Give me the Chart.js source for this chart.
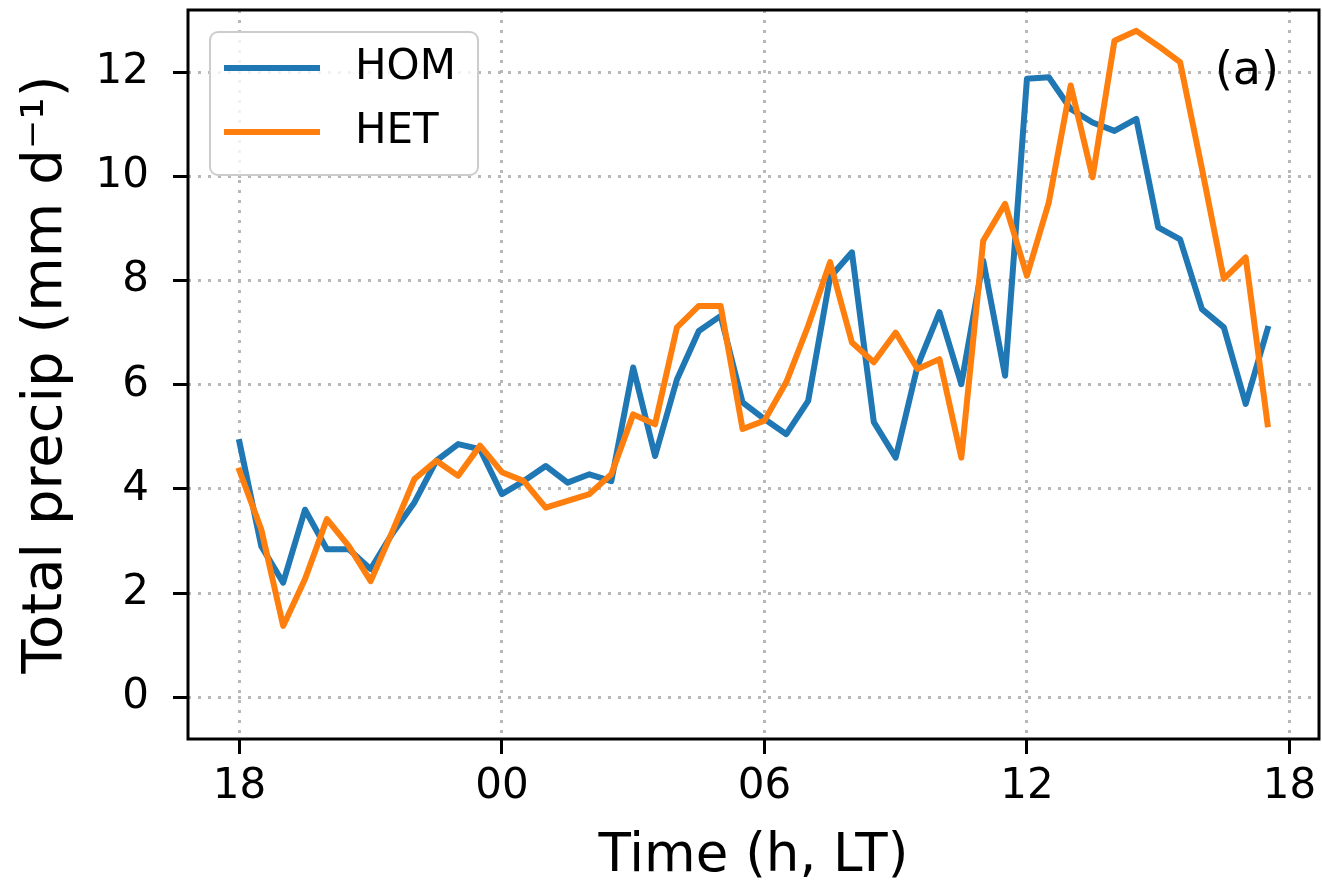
<!DOCTYPE html>
<html>
<head>
<meta charset="utf-8">
<title>Total precip HOM / HET</title>
<script src="https://cdn.jsdelivr.net/npm/chart.js@4.4.1/dist/chart.umd.min.js"></script>
<style>
  html, body { margin: 0; padding: 0; background: #fff; }
  #wrap { width: 1322px; height: 884px; position: relative; }
</style>
</head>
<body>
<div id="wrap"><canvas id="chartCanvas"></canvas></div>
<script>
// horas desde las 18 LT (cada media hora)
const horas = [0, 0.5, 1, 1.5, 2, 2.5, 3, 3.5, 4, 4.5, 5, 5.5, 6, 6.5, 7, 7.5,
    8, 8.5, 9, 9.5, 10, 10.5, 11, 11.5, 12, 12.5, 13, 13.5, 14, 14.5, 15, 15.5,
    16, 16.5, 17, 17.5, 18, 18.5, 19, 19.5, 20, 20.5, 21, 21.5, 22, 22.5, 23, 23.5];

const hom = [4.9, 2.9, 2.2, 3.6, 2.84, 2.84, 2.46, 3.15, 3.74, 4.54, 4.86, 4.76,
    3.9, 4.15, 4.44, 4.12, 4.28, 4.15, 6.33, 4.63, 6.1, 7.03, 7.32, 5.66,
    5.34, 5.05, 5.69, 8.06, 8.54, 5.28, 4.6, 6.36, 7.39, 6.01, 8.38, 6.17,
    11.87, 11.9, 11.29, 11.03, 10.87, 11.1, 9.02, 8.79, 7.45, 7.1, 5.63, 7.07];

const het = [4.35, 3.22, 1.37, 2.27, 3.42, 2.9, 2.23, 3.19, 4.19, 4.54, 4.25, 4.83,
    4.32, 4.15, 3.64, 3.77, 3.9, 4.28, 5.43, 5.24, 7.1, 7.51, 7.51, 5.15,
    5.31, 6.05, 7.13, 8.35, 6.81, 6.43, 7.0, 6.3, 6.49, 4.6, 8.76, 9.47,
    8.09, 9.5, 11.74, 9.98, 12.6, 12.79, 12.5, 12.19, 10.14, 8.03, 8.44, 5.24];

const xTickHoras = [0, 6, 12, 18, 24];
const xTickLabels = ['18', '00', '06', '12', '18'];
const yTicks = [0, 2, 4, 6, 8, 10, 12];

const FUENTE = '"DejaVu Sans", sans-serif';

function aPuntos(valores) {
    return valores.map((v, i) => ({ x: horas[i], y: v }));
}

// marco negro, leyenda y etiqueta (a)
const extras = {
    id: 'extras',
    afterDatasetsDraw(chart) {
        const ctx = chart.ctx;
        const area = chart.chartArea;
        const bx = area.left + 22, by = area.top + 22, bw = 268, bh = 143;

        ctx.save();
        ctx.beginPath();
        ctx.roundRect(bx, by, bw, bh, 8);
        ctx.fillStyle = 'rgba(255,255,255,0.8)';
        ctx.fill();
        ctx.strokeStyle = '#cccccc';
        ctx.lineWidth = 2;
        ctx.stroke();

        const filas = [by + 36, by + 100];
        chart.data.datasets.forEach((ds, i) => {
            ctx.beginPath();
            ctx.moveTo(bx + 14, filas[i]);
            ctx.lineTo(bx + 110, filas[i]);
            ctx.strokeStyle = ds.borderColor;
            ctx.lineWidth = 6;
            ctx.stroke();
            ctx.fillStyle = '#000';
            ctx.font = '42px ' + FUENTE;
            ctx.textAlign = 'left';
            ctx.textBaseline = 'middle';
            ctx.fillText(ds.label, bx + 145, filas[i]);
        });

        ctx.font = '46px ' + FUENTE;
        ctx.textAlign = 'right';
        ctx.textBaseline = 'middle';
        ctx.fillStyle = '#000';
        ctx.fillText('(a)', area.right - 40, chart.scales.y.getPixelForValue(12));
        ctx.restore();
    },
    afterDraw(chart) {
        const ctx = chart.ctx;
        const a = chart.chartArea;
        ctx.save();
        ctx.strokeStyle = '#000';
        ctx.lineWidth = 3;
        ctx.strokeRect(a.left, a.top, a.right - a.left, a.bottom - a.top);
        ctx.restore();
    }
};

const gridComun = {
    color: '#b8b8b8',
    lineWidth: 3,
    drawTicks: true,
    tickLength: 15,
    tickWidth: 3,
    tickColor: '#000'
};

function sinRelleno(scale) {
    scale.paddingTop = 0;
    scale.paddingBottom = 0;
    scale.paddingLeft = 0;
    scale.paddingRight = 0;
}

const ctx = document.getElementById('chartCanvas').getContext('2d');
const chart = new Chart(ctx, {
    type: 'line',
    data: {
        datasets: [{
            label: 'HOM',
            data: aPuntos(hom),
            borderColor: '#1f77b4',
            borderWidth: 6,
            pointRadius: 0,
            tension: 0,
            borderJoinStyle: 'round',
            borderCapStyle: 'square',
            order: 2
        }, {
            label: 'HET',
            data: aPuntos(het),
            borderColor: '#ff7f0e',
            borderWidth: 6,
            pointRadius: 0,
            tension: 0,
            borderJoinStyle: 'round',
            borderCapStyle: 'square',
            order: 1
        }]
    },
    options: {
        responsive: true,
        maintainAspectRatio: false,
        animation: false,
        layout: { padding: { top: 10, right: 3, left: 0, bottom: 0 } },
        plugins: {
            legend: { display: false },
            tooltip: { enabled: false }
        },
        scales: {
            x: {
                type: 'linear',
                min: -1.175,
                max: 24.675,
                afterFit(scale) { scale.height = 145; sinRelleno(scale); },
                afterBuildTicks(scale) { scale.ticks = xTickHoras.map(v => ({ value: v })); },
                grid: gridComun,
                border: { display: false, dash: [3, 7] },
                ticks: {
                    autoSkip: false,
                    maxRotation: 0,
                    padding: 8,
                    color: '#000',
                    font: { family: FUENTE, size: 42 },
                    callback: (value, index) => xTickLabels[index]
                },
                title: {
                    display: true,
                    text: 'Time (h, LT)',
                    color: '#000',
                    font: { family: FUENTE, size: 53, lineHeight: 1 },
                    padding: { top: 0, bottom: 0 }
                }
            },
            y: {
                type: 'linear',
                min: -0.8,
                max: 13.19,
                afterFit(scale) { scale.width = 188; sinRelleno(scale); },
                afterBuildTicks(scale) { scale.ticks = yTicks.map(v => ({ value: v })); },
                grid: gridComun,
                border: { display: false, dash: [3, 7] },
                ticks: {
                    padding: 24,
                    color: '#000',
                    font: { family: FUENTE, size: 42 },
                    callback: (value) => String(value)
                },
                title: {
                    display: true,
                    text: 'Total precip (mm d\u207B\u00B9)',
                    color: '#000',
                    font: { family: FUENTE, size: 56, lineHeight: 1 },
                    padding: { top: 18, bottom: 0 }
                }
            }
        }
    },
    plugins: [extras]
});
</script>
</body>
</html>
